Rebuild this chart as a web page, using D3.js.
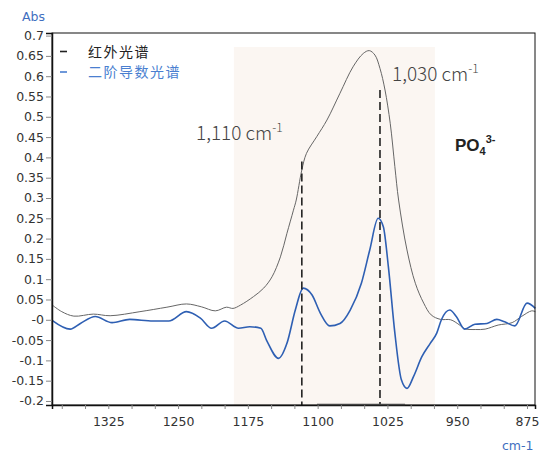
<!DOCTYPE html>
<html>
<head>
<meta charset="utf-8">
<script src="https://cdn.jsdelivr.net/npm/d3@7"></script>
<style>
  body { margin: 0; background: #fff; }
  svg text { font-family: "DejaVu Sans", sans-serif; }
</style>
</head>
<body>
<svg width="541" height="453"></svg>
<script>
// IR absorbance spectrum (wavenumber, Abs)
var irWn  = [1385, 1375, 1362, 1341, 1323, 1291, 1262, 1241, 1225, 1210, 1198, 1191, 1183, 1169, 1158, 1149, 1140, 1133, 1126, 1123, 1117, 1112, 1101, 1090, 1076, 1062, 1051, 1044.5, 1038.4, 1033, 1027.6, 1022, 1017, 1013, 1004, 995, 986, 978, 968, 957, 948, 942, 930, 920, 906, 891, 881, 870, 866];
var irAbs = [0.036, 0.020, 0.009, 0.014, 0.010, 0.020, 0.031, 0.039, 0.032, 0.022, 0.031, 0.028, 0.036, 0.057, 0.078, 0.106, 0.155, 0.213, 0.270, 0.295, 0.369, 0.410, 0.451, 0.492, 0.558, 0.623, 0.656, 0.663, 0.652, 0.619, 0.566, 0.484, 0.377, 0.295, 0.172, 0.090, 0.041, 0.012, 0.001, 0.000, -0.012, -0.022, -0.024, -0.023, -0.013, -0.007, 0.008, 0.022, 0.020];

// second derivative spectrum
var d2Wn  = [1385, 1366, 1355, 1339, 1321, 1302, 1277, 1260, 1241, 1226, 1214, 1200, 1185, 1173, 1161, 1155, 1142, 1133, 1124, 1115.5, 1106, 1097, 1087, 1076, 1065, 1053, 1044, 1035, 1029.4, 1024, 1017, 1010, 1004, 997, 988, 979, 972, 967, 958, 951, 942, 931, 918, 907.5, 899, 888, 875, 866];
var d2Abs = [-0.002, -0.023, -0.009, 0.008, -0.007, 0.001, -0.003, -0.003, 0.020, 0.004, -0.021, -0.003, -0.021, -0.017, -0.021, -0.050, -0.095, -0.058, 0.024, 0.078, 0.061, 0.016, -0.015, -0.009, 0.024, 0.090, 0.172, 0.250, 0.229, 0.131, -0.033, -0.148, -0.169, -0.140, -0.091, -0.058, -0.033, 0.000, 0.024, 0.008, -0.023, -0.011, -0.009, 0.001, -0.005, -0.015, 0.041, 0.028];

var yTicks = [0.7, 0.65, 0.6, 0.55, 0.5, 0.45, 0.4, 0.35, 0.3, 0.25, 0.2, 0.15, 0.1, 0.05, 0, -0.05, -0.1, -0.15, -0.2];
var yTickLabels = ["0.7", "0.65", "0.6", "0.55", "0.5", "0.45", "0.4", "0.35", "0.3", "0.25", "0.2", "0.15", "0.1", "0.05", "-0", "-0.05", "-0.1", "-0.15", "-0.2"];
var xMajor = [1325, 1250, 1175, 1100, 1025, 950, 875];
var xMinor = [1375, 1350, 1325, 1300, 1275, 1250, 1225, 1200, 1175, 1150, 1125, 1100, 1075, 1050, 1025, 1000, 975, 950, 925, 900, 875];

var band = [1190, 974];        // shaded region
var bandTop = 0.672;
var peaks = [1117, 1033];      // dashed markers
var peakTops = [0.39, 0.566];
var bracket = [1100.7, 1006];

var svg = d3.select("svg");
var mLeft = 52, mRight = 535, mTop = 33, mBottom = 405;

var x = d3.scaleLinear().domain([1385.5, 866.4]).range([mLeft, mRight]);
var y = d3.scaleLinear().domain([-0.2099, 0.7064]).range([mBottom, mTop]);

// shaded band
svg.append("rect")
  .attr("x", x(band[0]))
  .attr("y", y(bandTop))
  .attr("width", x(band[1]) - x(band[0]))
  .attr("height", mBottom - y(bandTop))
  .attr("fill", "#fbf6f2");

var line = d3.line()
  .x(function(d) { return x(d[0]); })
  .y(function(d) { return y(d[1]); });

svg.append("path")
  .datum(d3.zip(irWn, irAbs))
  .attr("d", line.curve(d3.curveCatmullRom.alpha(0.5)))
  .attr("fill", "none")
  .attr("stroke", "#666")
  .attr("stroke-width", 1);

svg.append("path")
  .datum(d3.zip(d2Wn, d2Abs))
  .attr("d", line.curve(d3.curveMonotoneX))
  .attr("fill", "none")
  .attr("stroke", "#2e5fb3")
  .attr("stroke-width", 1.6);

// dashed peak markers
svg.selectAll(".peak")
  .data(peaks)
  .enter().append("line")
    .attr("class", "peak")
    .attr("x1", function(d) { return x(d); })
    .attr("x2", function(d) { return x(d); })
    .attr("y1", function(d, i) { return y(peakTops[i]); })
    .attr("y2", mBottom)
    .attr("stroke", "#222")
    .attr("stroke-width", 1.6)
    .attr("stroke-dasharray", "8,4");

// frame
svg.append("rect")
  .attr("x", mLeft).attr("y", mTop)
  .attr("width", mRight - mLeft).attr("height", mBottom - mTop)
  .attr("fill", "none")
  .attr("stroke", "#111")
  .attr("stroke-width", 1);

// axes
var yAxis = svg.append("g")
  .attr("transform", "translate(" + mLeft + ",0)")
  .call(d3.axisLeft(y).tickValues(yTicks).tickSize(6).tickPadding(2)
    .tickFormat(function(d, i) { return yTickLabels[i]; }));
yAxis.select(".domain").attr("stroke", "#111").attr("stroke-width", 1.5);
yAxis.selectAll(".tick line").attr("stroke", "#888");
yAxis.selectAll(".tick text").attr("font-size", "12.5px").attr("fill", "#333")
  .style("font-family", "DejaVu Sans");

var xAxis = svg.append("g")
  .attr("transform", "translate(0," + mBottom + ")")
  .call(d3.axisBottom(x).tickValues(xMinor).tickSize(4).tickPadding(8)
    .tickFormat(function(d) { return xMajor.indexOf(d) >= 0 ? d : ""; }));
xAxis.select(".domain").attr("stroke", "#111").attr("stroke-width", 1.5);
xAxis.selectAll(".tick line").attr("stroke", "#888");
xAxis.selectAll(".tick text").attr("font-size", "12.5px").attr("fill", "#333")
  .style("font-family", "DejaVu Sans");

svg.append("line")
  .attr("x1", x(bracket[0])).attr("x2", x(bracket[1]))
  .attr("y1", mBottom - 0.5).attr("y2", mBottom - 0.5)
  .attr("stroke", "#444").attr("stroke-width", 1.5);

// axis units
svg.append("text").attr("x", 22).attr("y", 21)
  .attr("font-size", "12.5px").attr("fill", "#3f6fc0").text("Abs");
svg.append("text").attr("x", 502).attr("y", 450)
  .attr("font-size", "12.5px").attr("fill", "#3f6fc0").text("cm-1");

// legend
var legend = [
  { label: "红外光谱", color: "#222", text: "#222" },
  { label: "二阶导数光谱", color: "#4a7fd0", text: "#4a7fd0" }
];
var lg = svg.selectAll(".legend")
  .data(legend)
  .enter().append("g")
    .attr("class", "legend")
    .attr("transform", function(d, i) { return "translate(0," + (51.5 + i * 20.5) + ")"; });
lg.append("line")
  .attr("x1", 60).attr("x2", 67)
  .attr("stroke", function(d) { return d.color; })
  .attr("stroke-width", 1.6);
lg.append("text")
  .attr("x", 88).attr("y", 5)
  .style("font-family", "Noto Sans CJK SC")
  .attr("font-size", "14px")
  .attr("letter-spacing", "1.5px")
  .attr("fill", function(d) { return d.text; })
  .text(function(d) { return d.label; });

// annotations
function wn(xp, yp, txt) {
  var t = svg.append("text").attr("x", xp).attr("y", yp)
    .style("font-family", "Noto Sans CJK JP")
    .attr("font-weight", 300)
    .attr("font-size", "19px").attr("fill", "#444");
  t.append("tspan").text(txt + " cm");
  t.append("tspan").attr("dy", -8).attr("font-size", "12px").text("-1");
}
wn(196, 140, "1,110");
wn(392, 81, "1,030");

var po = svg.append("text").attr("x", 455).attr("y", 151)
  .style("font-family", "Liberation Sans")
  .attr("font-weight", "bold").attr("font-size", "17px").attr("fill", "#222");
po.append("tspan").text("PO");
po.append("tspan").attr("dy", 4).attr("font-size", "11px").text("4");
po.append("tspan").attr("dy", -12).attr("font-size", "11px").text("3-");
</script>
</body>
</html>
